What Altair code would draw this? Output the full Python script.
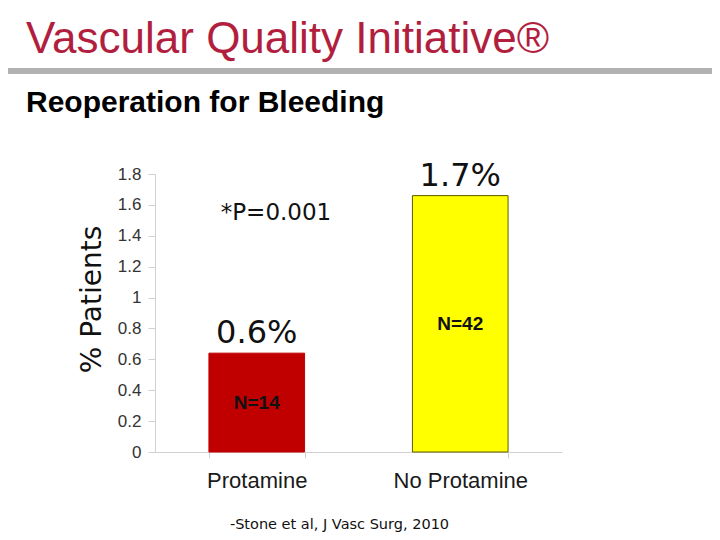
import altair as alt
import pandas as pd

# ---- data ----
categories = ["Protamine", "No Protamine"]
values = [0.64, 1.66]
pct_labels = ["0.6%", "1.7%"]
n_labels = ["N=14", "N=42"]
bar_colors = ["#C00000", "#FFFF00"]
bar_strokes = ["#C00000", "#5C5C00"]
y_ticks = [0, 0.2, 0.4, 0.6, 0.8, 1.0, 1.2, 1.4, 1.6, 1.8]

ann_text = ["*P=0.001"]
ann_cat = ["Protamine"]
ann_y = [1.55]

title_text = "Vascular Quality Initiative®"
subtitle_text = "Reoperation for Bleeding"
footer_text = "-Stone et al, J Vasc Surg, 2010"

df = pd.DataFrame({
    "cat": categories, "val": values, "pct": pct_labels,
    "n": n_labels, "color": bar_colors, "stroke": bar_strokes,
})
ann_df = pd.DataFrame({"cat": ann_cat, "val": ann_y, "txt": ann_text})

x_enc = alt.X(
    "cat:N", sort=categories,
    scale=alt.Scale(paddingInner=0.53, paddingOuter=0.265),
    axis=alt.Axis(
        title=footer_text, labelAngle=0, labelFont="Liberation Sans",
        labelFontSize=22, labelColor="#1a1a1a", labelPadding=12,
        tickBand="extent", tickSize=6, tickColor="#D0D0D0",
        domainColor="#D0D0D0",
        titleFont="DejaVu Sans", titleFontSize=14.5, titleFontWeight="normal",
        titleColor="#111", titleX=184, titleY=76, titleAlign="center",
        titleBaseline="alphabetic",
    ),
)
y_axis = alt.Axis(
    values=y_ticks, format="~g", grid=False, labelOverlap=False,
    labelFont="Liberation Sans", labelFontSize=17, labelColor="#333",
    labelPadding=7, tickSize=7, tickColor="#D0D0D0", domainColor="#D0D0D0",
    title="% Patients", titleFont="DejaVu Sans", titleFontSize=28,
    titleFontWeight="normal", titleColor="#111", titleAngle=270,
    titleX=-55, titleY=125, titleAlign="center", titleBaseline="alphabetic",
)
y_scale = alt.Scale(domain=[0, 1.8], nice=False)
y_enc = alt.Y("val:Q", scale=y_scale, axis=y_axis)

rule = alt.Chart(pd.DataFrame({"a": [0]})).mark_rule(
    color="#B2B2B2", strokeWidth=6
).encode(x=alt.value(-155), x2=alt.value(565), y=alt.value(-103))

bars = alt.Chart(df).mark_bar(strokeWidth=1).encode(
    x=x_enc, y=y_enc,
    color=alt.Color("color:N", scale=None),
    stroke=alt.Stroke("stroke:N", scale=None),
)

pct = alt.Chart(df).mark_text(
    baseline="alphabetic", dy=-10, font="DejaVu Sans", fontSize=32, color="#111"
).encode(x=x_enc, y=y_enc, text="pct:N")

ntext = alt.Chart(df).transform_calculate(mid="datum.val / 2").mark_text(
    baseline="middle", font="Liberation Sans", fontWeight="bold",
    fontSize=19, color="#111"
).encode(x=x_enc, y=alt.Y("mid:Q", scale=y_scale, axis=y_axis), text="n:N")

ann = alt.Chart(ann_df).mark_text(
    align="left", baseline="middle", dx=-36, font="DejaVu Sans",
    fontSize=23, color="#111"
).encode(x=x_enc, y=y_enc, text="txt:N")

chart = alt.layer(rule, bars, pct, ntext, ann).properties(
    width=407, height=278,
    title=alt.TitleParams(
        text=title_text, subtitle=subtitle_text, anchor="start", frame="group",
        dx=-129, dy=100, font="Liberation Sans", fontSize=44,
        fontWeight="normal", color="#B21F3E", subtitleFont="Liberation Sans",
        subtitleFontSize=30, subtitleFontWeight="bold", subtitleColor="#000",
        subtitlePadding=26, offset=50,
    ),
    autosize=alt.AutoSizeParams(type="none"),
    padding={"left": 147, "top": 166, "right": 150, "bottom": 80},
).configure_view(stroke=None)

chart.save("out.html", embed_options={"renderer": "svg", "actions": False})
